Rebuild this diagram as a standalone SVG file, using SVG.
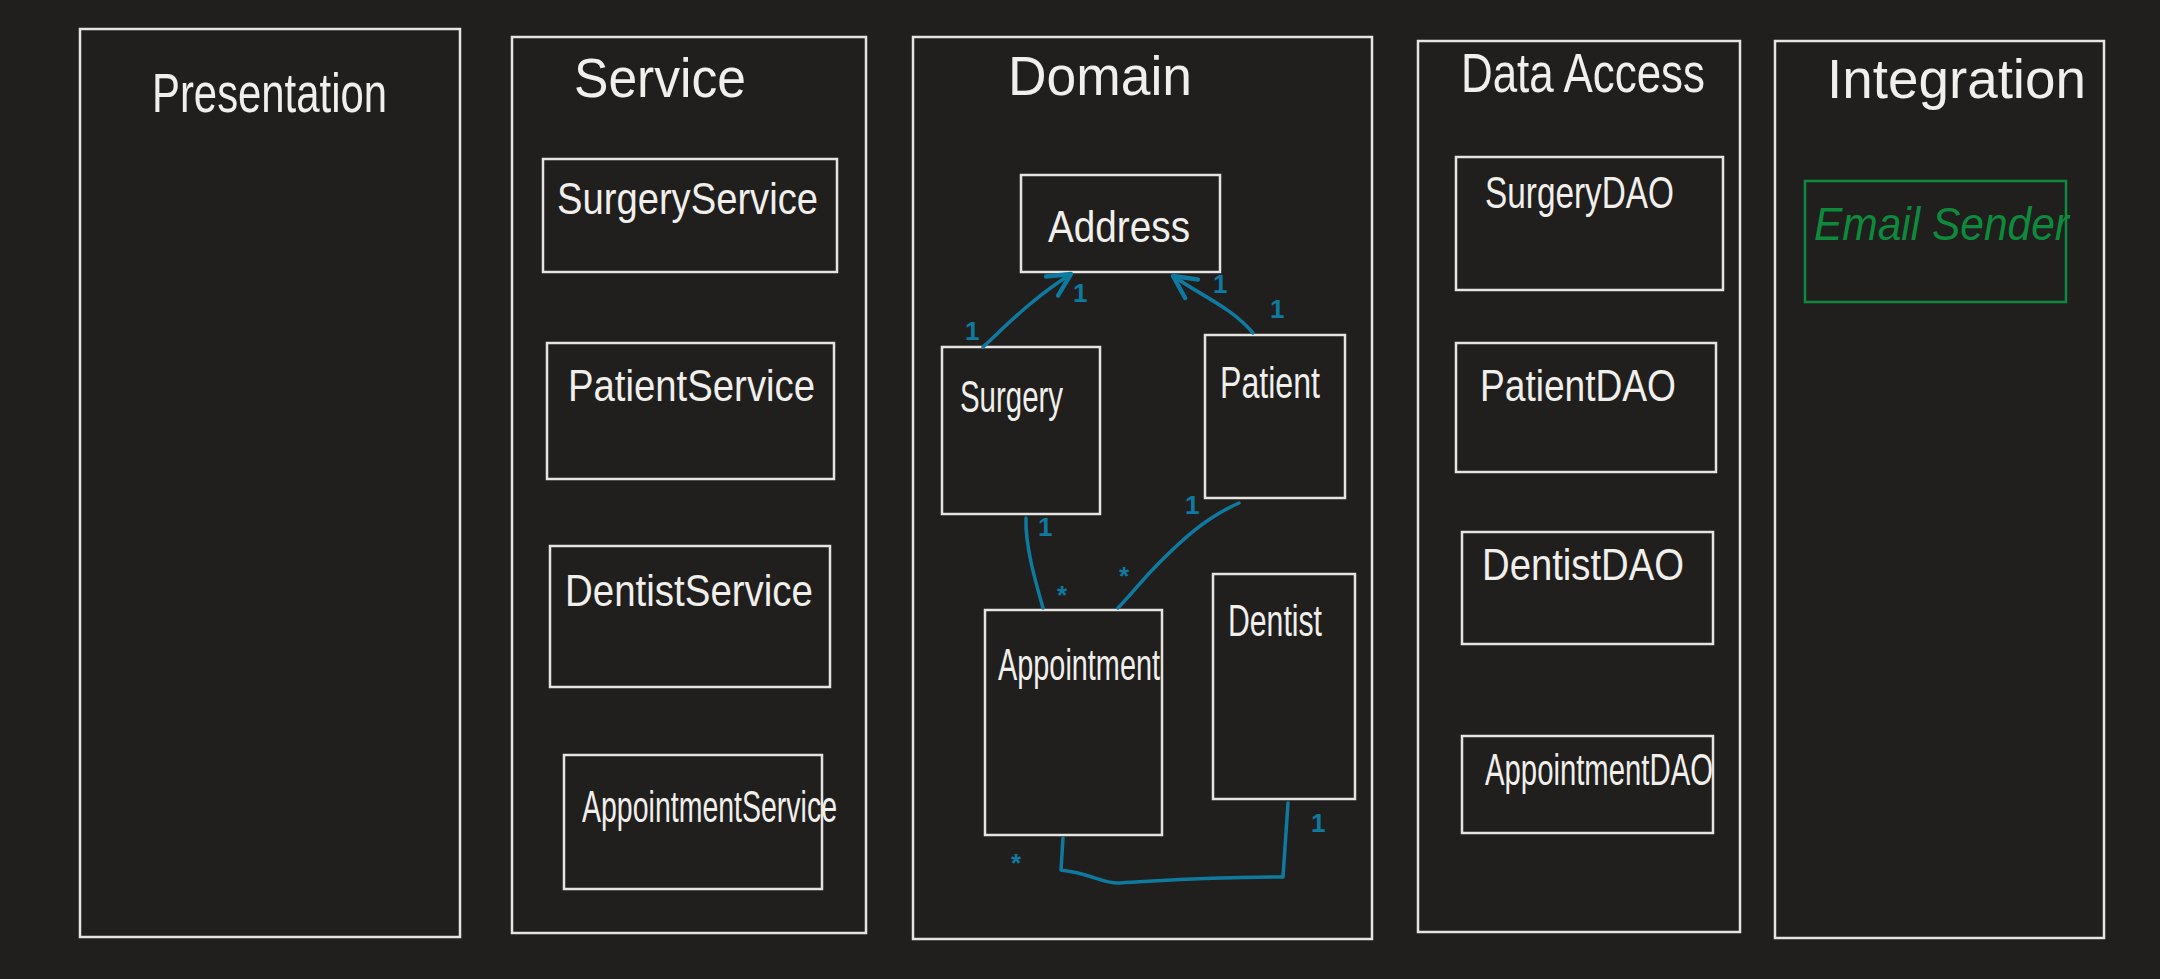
<svg xmlns="http://www.w3.org/2000/svg" width="2160" height="979" viewBox="0 0 2160 979">
<defs>
<style>
.bg{fill:#201f1e}
.box{fill:none;stroke:#e6e4e1;stroke-width:2.5}
.gbox{fill:none;stroke:#0d8a3c;stroke-width:2.5}
.t{font-family:"Liberation Sans",Arial,sans-serif;fill:#f1efec}
.title{font-size:56px}
.lbl{font-size:44px}
.glbl{font-family:"Liberation Sans",Arial,sans-serif;fill:#0d8a3c;font-size:46px;font-style:italic}
.con{fill:none;stroke:#0f7aa0;stroke-width:3.5;stroke-linecap:round;stroke-linejoin:round}
.m{font-family:"Liberation Sans",Arial,sans-serif;fill:#0f7aa0;font-size:26px;font-weight:bold}
</style>
<marker id="arr" markerUnits="userSpaceOnUse" markerWidth="30" markerHeight="30" refX="0" refY="0" viewBox="-20 -12 24 24" orient="auto">
<path d="M -18 -9 L 0 0 L -18 9" fill="none" stroke="#0f7aa0" stroke-width="3.5" stroke-linecap="round" stroke-linejoin="round"/>
</marker>
</defs>
<rect class="bg" x="0" y="0" width="2160" height="979"/>

<g id="presentation">
<rect class="box" x="80" y="29" width="380" height="908"/>
<text class="t title" x="152" y="112" textLength="235" lengthAdjust="spacingAndGlyphs">Presentation</text>
</g>

<g id="service">
<rect class="box" x="512" y="37" width="354" height="896"/>
<text class="t title" x="574" y="97" textLength="172" lengthAdjust="spacingAndGlyphs">Service</text>
</g>
<g id="surgery-service">
<rect class="box" x="543" y="159" width="294" height="113"/>
<text class="t lbl" x="557" y="214" textLength="261" lengthAdjust="spacingAndGlyphs">SurgeryService</text>
</g>
<g id="patient-service">
<rect class="box" x="547" y="343" width="287" height="136"/>
<text class="t lbl" x="568" y="401" textLength="247" lengthAdjust="spacingAndGlyphs">PatientService</text>
</g>
<g id="dentist-service">
<rect class="box" x="550" y="546" width="280" height="141"/>
<text class="t lbl" x="565" y="606" textLength="248" lengthAdjust="spacingAndGlyphs">DentistService</text>
</g>
<g id="appointment-service">
<rect class="box" x="564" y="755" width="258" height="134"/>
<text class="t lbl" x="582" y="822" textLength="255" lengthAdjust="spacingAndGlyphs">AppointmentService</text>
</g>

<g id="domain">
<rect class="box" x="913" y="37" width="459" height="902"/>
<text class="t title" x="1008" y="95" textLength="184" lengthAdjust="spacingAndGlyphs">Domain</text>
</g>
<g id="address">
<rect class="box" x="1021" y="175" width="199" height="97"/>
<text class="t lbl" x="1048" y="242" textLength="142" lengthAdjust="spacingAndGlyphs">Address</text>
</g>
<g id="surgery">
<rect class="box" x="942" y="347" width="158" height="167"/>
<text class="t lbl" x="960" y="412" textLength="103" lengthAdjust="spacingAndGlyphs">Surgery</text>
</g>
<g id="patient">
<rect class="box" x="1205" y="335" width="140" height="163"/>
<text class="t lbl" x="1220" y="398" textLength="100" lengthAdjust="spacingAndGlyphs">Patient</text>
</g>
<g id="appointment">
<rect class="box" x="985" y="610" width="177" height="225"/>
<text class="t lbl" x="998" y="680" textLength="162" lengthAdjust="spacingAndGlyphs">Appointment</text>
</g>
<g id="dentist">
<rect class="box" x="1213" y="574" width="142" height="225"/>
<text class="t lbl" x="1228" y="636" textLength="94" lengthAdjust="spacingAndGlyphs">Dentist</text>
</g>

<g id="data-access">
<rect class="box" x="1418" y="41" width="322" height="891"/>
<text class="t title" x="1461" y="92" textLength="244" lengthAdjust="spacingAndGlyphs">Data Access</text>
</g>
<g id="surgery-dao">
<rect class="box" x="1456" y="157" width="267" height="133"/>
<text class="t lbl" x="1485" y="208" textLength="189" lengthAdjust="spacingAndGlyphs">SurgeryDAO</text>
</g>
<g id="patient-dao">
<rect class="box" x="1456" y="343" width="260" height="129"/>
<text class="t lbl" x="1480" y="401" textLength="196" lengthAdjust="spacingAndGlyphs">PatientDAO</text>
</g>
<g id="dentist-dao">
<rect class="box" x="1462" y="532" width="251" height="112"/>
<text class="t lbl" x="1482" y="580" textLength="202" lengthAdjust="spacingAndGlyphs">DentistDAO</text>
</g>
<g id="appointment-dao">
<rect class="box" x="1462" y="736" width="251" height="97"/>
<text class="t lbl" x="1485" y="785" textLength="228" lengthAdjust="spacingAndGlyphs">AppointmentDAO</text>
</g>

<g id="integration">
<rect class="box" x="1775" y="41" width="329" height="897"/>
<text class="t title" x="1827" y="98" textLength="259" lengthAdjust="spacingAndGlyphs">Integration</text>
</g>
<g id="email-sender">
<rect class="gbox" x="1805" y="181" width="261" height="121"/>
<text class="glbl" x="1814" y="240" textLength="255" lengthAdjust="spacingAndGlyphs">Email Sender</text>
</g>

<g id="connectors">
<path class="con" d="M 983 347 C 1005 327, 1030 300, 1071 274" marker-end="url(#arr)"/>
<path class="con" d="M 1253 333 C 1232 308, 1202 296, 1173 276" marker-end="url(#arr)"/>
<path class="con" d="M 1026 518 C 1025 545, 1035 580, 1043 608"/>
<path class="con" d="M 1239 503 C 1205 518, 1182 540, 1160 562 S 1140 585, 1118 608"/>
<path class="con" d="M 1063 838 L 1061 870 L 1073 872 C 1095 876, 1105 884, 1120 883 C 1160 881, 1200 877, 1283 877 L 1288 803"/>
<text class="m" x="965" y="340">1</text>
<text class="m" x="1073" y="302">1</text>
<text class="m" x="1213" y="293">1</text>
<text class="m" x="1270" y="318">1</text>
<text class="m" x="1038" y="536">1</text>
<text class="m" x="1057" y="604">*</text>
<text class="m" x="1185" y="514">1</text>
<text class="m" x="1119" y="585">*</text>
<text class="m" x="1011" y="872">*</text>
<text class="m" x="1311" y="832">1</text>
</g>
</svg>
